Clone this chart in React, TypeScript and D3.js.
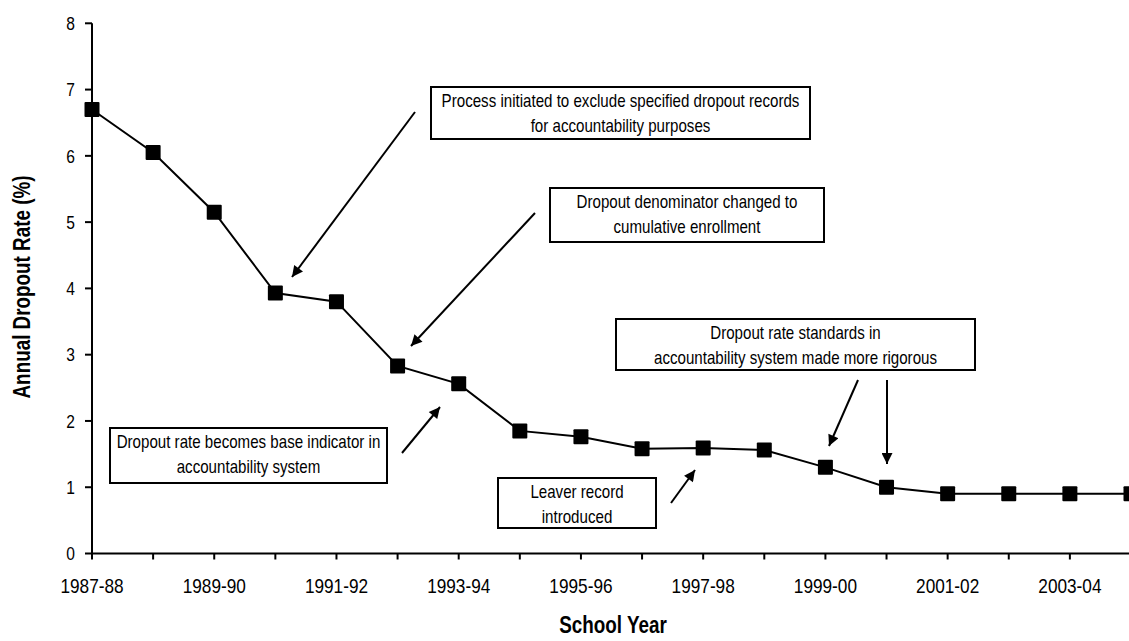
import React from "react";
import * as d3 from "d3";

const years = [
  "1987-88","1988-89","1989-90","1990-91","1991-92","1992-93","1993-94","1994-95","1995-96",
  "1996-97","1997-98","1998-99","1999-00","2000-01","2001-02","2002-03","2003-04","2004-05",
];
const rates = [6.7, 6.05, 5.15, 3.93, 3.8, 2.83, 2.56, 1.85, 1.76, 1.58, 1.59, 1.56, 1.3, 1.0, 0.9, 0.9, 0.9, 0.9];
const yTicks = [0, 1, 2, 3, 4, 5, 6, 7, 8];
const labelEvery = 2;

const notes = [
  ["Process initiated to exclude specified dropout records", "for accountability purposes"],
  ["Dropout denominator changed to", "cumulative enrollment"],
  ["Dropout rate becomes base indicator in", "accountability system"],
  ["Leaver record", "introduced"],
  ["Dropout rate standards in", "accountability system made more rigorous"],
];

// layout (pixels)
const W = 1129, H = 641;
const boxes = [
  { x: 431, y: 87, w: 379, h: 52 },
  { x: 550, y: 188, w: 274, h: 54 },
  { x: 110, y: 428, w: 277, h: 55 },
  { x: 498, y: 478, w: 158, h: 50 },
  { x: 616, y: 319, w: 359, h: 51 },
];
const arrows = [
  { x1: 415, y1: 112, x2: 292, y2: 277 },
  { x1: 535, y1: 213, x2: 411, y2: 346 },
  { x1: 402, y1: 453, x2: 440, y2: 407 },
  { x1: 671, y1: 503, x2: 695, y2: 470 },
  { x1: 858, y1: 380, x2: 829, y2: 446 },
  { x1: 887, y1: 380, x2: 887, y2: 464 },
];

const FONT = "'Liberation Sans', Arial, sans-serif";

function NText({ x, y, size, anchor = "middle", weight = "normal", rotate = 0, dy, sx = 0.82, children }: any) {
  return (
    <text
      transform={`translate(${x},${y}) rotate(${rotate}) scale(${sx},1)`}
      textAnchor={anchor}
      fontSize={size}
      fontWeight={weight}
      dy={dy}
      fill="#000"
    >
      {children}
    </text>
  );
}

export default function App() {
  const x = d3.scaleLinear().domain([0, years.length - 1]).range([92, 1131]);
  const y = d3.scaleLinear().domain([0, 8]).range([553.5, 23.3]);
  const line = d3
    .line<number>()
    .x((_, i) => x(i))
    .y((d) => y(d));
  const ms = 15;

  return (
    <svg
      width={W}
      height={H}
      style={{ position: "absolute", left: 0, top: 0, background: "#fff" }}
      fontFamily={FONT}
    >
      <defs>
        <marker id="ah" viewBox="0 0 10 10" refX="10" refY="5" markerWidth="7" markerHeight="5.5" orient="auto" markerUnits="strokeWidth">
          <path d="M0,0 L10,5 L0,10 z" fill="#000" />
        </marker>
      </defs>
      {/* y axis */}
      <line x1={x(0)} x2={x(0)} y1={y(8)} y2={y(0)} stroke="#000" strokeWidth={2} />
      {yTicks.map((t) => (
        <g key={t}>
          <line x1={x(0) - 7} x2={x(0)} y1={y(t)} y2={y(t)} stroke="#000" strokeWidth={2} />
          <NText x={x(0) - 17} y={y(t)} dy="0.35em" anchor="end" size={19}>
            {t}
          </NText>
        </g>
      ))}
      {/* x axis */}
      <line x1={x(0)} x2={W} y1={y(0)} y2={y(0)} stroke="#000" strokeWidth={2} />
      {years.map((yr, i) => (
        <g key={yr}>
          <line x1={x(i)} x2={x(i)} y1={y(0)} y2={y(0) + 6} stroke="#000" strokeWidth={2} />
          {i % labelEvery === 0 && (
            <NText x={x(i)} y={593} size={21}>
              {yr}
            </NText>
          )}
        </g>
      ))}
      {/* series */}
      <path d={line(rates) || ""} fill="none" stroke="#000" strokeWidth={2} />
      {rates.map((r, i) => (
        <rect key={i} x={x(i) - ms / 2} y={y(r) - ms / 2} width={ms} height={ms} fill="#000" rx={1} />
      ))}
      {/* annotations */}
      {boxes.map((b, i) => (
        <g key={i}>
          <rect x={b.x} y={b.y} width={b.w} height={b.h} fill="#fff" stroke="#000" strokeWidth={2} />
          {notes[i].map((ln, j) => (
            <NText key={j} x={b.x + b.w / 2} y={b.y + 20 + j * 24.5} size={18} sx={0.84}>
              {ln}
            </NText>
          ))}
        </g>
      ))}
      {arrows.map((a, i) => (
        <line key={i} x1={a.x1} y1={a.y1} x2={a.x2} y2={a.y2} stroke="#000" strokeWidth={2} markerEnd="url(#ah)" />
      ))}
      {/* axis titles */}
      <NText x={613} y={633} size={23} weight="bold">
        School Year
      </NText>
      <NText x={30} y={287} size={23} weight="bold" rotate={-90}>
        Annual Dropout Rate (%)
      </NText>
    </svg>
  );
}
